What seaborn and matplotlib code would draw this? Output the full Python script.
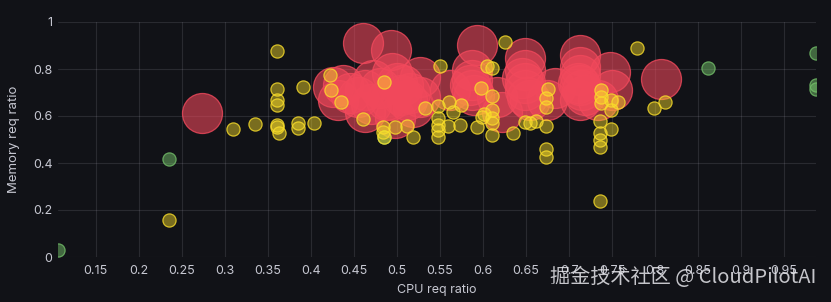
import numpy as np
import pandas as pd
import matplotlib
matplotlib.use("Agg")
import matplotlib.pyplot as plt
import seaborn as sns
from matplotlib.colors import to_rgba

# ---- data ----
red_cpu = [0.273, 0.426, 0.431, 0.460, 0.493, 0.463, 0.463, 0.494, 0.492, 0.498,
           0.527, 0.527, 0.519, 0.562, 0.587, 0.593, 0.587, 0.616, 0.622, 0.649,
           0.649, 0.651, 0.674, 0.713, 0.713, 0.713, 0.713, 0.748, 0.750, 0.807,
           0.684, 0.734,
           0.437, 0.472, 0.507, 0.512, 0.487, 0.587, 0.590, 0.649, 0.649, 0.655,
           0.713, 0.715, 0.719, 0.470, 0.500,
           0.445, 0.480, 0.515, 0.585, 0.645, 0.710, 0.455, 0.505]
red_mem = [0.613, 0.723, 0.668, 0.911, 0.881, 0.711, 0.617, 0.783, 0.668, 0.591,
           0.766, 0.681, 0.638, 0.711, 0.796, 0.902, 0.711, 0.681, 0.617, 0.847,
           0.740, 0.681, 0.668, 0.860, 0.809, 0.732, 0.668, 0.787, 0.711, 0.757,
           0.719, 0.668,
           0.732, 0.753, 0.732, 0.668, 0.668, 0.753, 0.689, 0.796, 0.711, 0.668,
           0.775, 0.711, 0.689, 0.650, 0.740,
           0.700, 0.720, 0.700, 0.730, 0.760, 0.740, 0.680, 0.690]

yellow_cpu = [0.235, 0.309, 0.335, 0.360, 0.360, 0.360, 0.360, 0.360, 0.360, 0.363,
              0.391, 0.385, 0.385, 0.403, 0.422, 0.423, 0.435, 0.460, 0.485, 0.484,
              0.484, 0.485, 0.498, 0.512, 0.519, 0.533, 0.550, 0.548, 0.548, 0.548,
              0.548, 0.548, 0.559, 0.565, 0.573, 0.593, 0.605, 0.610, 0.610, 0.610,
              0.610, 0.610, 0.610, 0.599, 0.626, 0.635, 0.649, 0.655, 0.662, 0.673,
              0.673, 0.673, 0.673, 0.673, 0.676, 0.779, 0.736, 0.736, 0.736, 0.736,
              0.736, 0.737, 0.737, 0.737, 0.749, 0.749, 0.749, 0.757, 0.799, 0.812,
              0.598, 0.560, 0.574, 0.601]
yellow_mem = [0.157, 0.545, 0.566, 0.877, 0.715, 0.668, 0.647, 0.562, 0.553, 0.528,
              0.723, 0.570, 0.549, 0.570, 0.774, 0.711, 0.660, 0.587, 0.745, 0.553,
              0.532, 0.511, 0.553, 0.557, 0.511, 0.634, 0.813, 0.643, 0.591, 0.562,
              0.540, 0.511, 0.557, 0.617, 0.562, 0.553, 0.813, 0.804, 0.685, 0.626,
              0.591, 0.570, 0.519, 0.596, 0.915, 0.528, 0.574, 0.570, 0.579, 0.677,
              0.638, 0.557, 0.460, 0.426, 0.715, 0.889, 0.579, 0.528, 0.498, 0.468,
              0.238, 0.711, 0.681, 0.655, 0.668, 0.626, 0.545, 0.660, 0.634, 0.660,
              0.719, 0.660, 0.647, 0.608]

green_cpu = [0.106, 0.235, 0.485, 0.862, 0.987, 0.987, 0.987]
green_mem = [0.030, 0.417, 0.511, 0.804, 0.869, 0.730, 0.715]

x_ticks = [0.15, 0.2, 0.25, 0.3, 0.35, 0.4, 0.45, 0.5, 0.55, 0.6, 0.65, 0.7, 0.75, 0.8, 0.85, 0.9, 0.95]
x_tick_labels = ["0.15", "0.2", "0.25", "0.3", "0.35", "0.4", "0.45", "0.5", "0.55", "0.6",
                 "0.65", "0.7", "0.75", "0.8", "0.85", "0.9", "0.95"]
y_ticks = [0, 0.2, 0.4, 0.6, 0.8, 1.0]
y_tick_labels = ["0", "0.2", "0.4", "0.6", "0.8", "1"]

BG = "#111217"
TXT = "#c7c8d2"
GRID = (0.8, 0.8, 0.86, 0.13)
groups = [
    ("red", red_cpu, red_mem, "#F2495C", 830, 0.58),
    ("green", green_cpu, green_mem, "#73BF69", 90, 0.5),
    ("yellow", yellow_cpu, yellow_mem, "#FADE2A", 90, 0.45),
]

sns.set_style("dark", {"axes.facecolor": BG, "figure.facecolor": BG,
                       "grid.color": GRID, "axes.grid": True})
plt.rcParams["font.family"] = ["Inter", "DejaVu Sans"]

fig = plt.figure(figsize=(8.31, 3.02), dpi=100, facecolor=BG)
ax = fig.add_axes([58 / 831, 1 - 257 / 302, (816 - 58) / 831, (257 - 22) / 302])
ax.set_facecolor(BG)

for name, xs, ys, col, s, af in groups:
    df = pd.DataFrame({"cpu": xs, "mem": ys})
    sns.scatterplot(data=df, x="cpu", y="mem", s=s, ax=ax, legend=False, zorder=3)
    coll = ax.collections[-1]
    coll.set_facecolor(to_rgba(col, af))
    coll.set_edgecolor(to_rgba(col, 0.8))
    coll.set_linewidth(0.9)

all_cpu = red_cpu + yellow_cpu + green_cpu
ax.set_xlim(min(all_cpu), max(all_cpu))
ax.set_ylim(0, 1)
ax.set_xticks(x_ticks)
ax.set_xticklabels(x_tick_labels)
ax.set_yticks(y_ticks)
ax.set_yticklabels(y_tick_labels)
ax.grid(True, which="major", color=GRID[:3], alpha=GRID[3], linewidth=0.8)
ax.set_axisbelow(True)
for sp in ax.spines.values():
    sp.set_visible(False)
ax.tick_params(axis="both", length=0, colors=TXT, labelsize=9)
ax.tick_params(axis="y", pad=4)
ax.tick_params(axis="x", pad=6)
ax.set_xlabel("CPU req ratio", color=TXT, fontsize=9, labelpad=5)
ax.set_ylabel("Memory req ratio", color=TXT, fontsize=9.5, labelpad=9)

fig.text(816 / 831, 1 - 277 / 302, "掘金技术社区 @ CloudPilotAI", ha="right", va="center",
         fontsize=14.5, color=(0.9, 0.9, 0.92, 0.85),
         family=["Noto Sans CJK SC", "DejaVu Sans"])

fig.savefig("out.png", dpi=100, facecolor=BG)
